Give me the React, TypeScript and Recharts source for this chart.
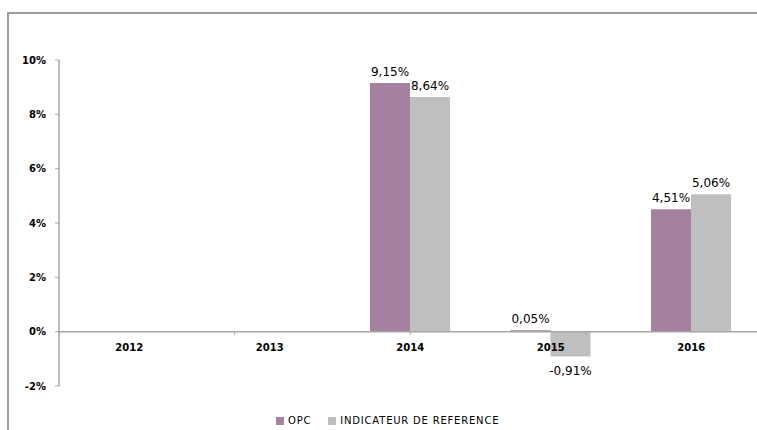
import React from 'react';
import { BarChart, Bar, XAxis, YAxis, ReferenceLine, ReferenceDot, LabelList } from 'recharts';

// Annual performance (%) of the fund vs. its benchmark
const years = ['2012', '2013', '2014', '2015', '2016'];
const opcValues: (number | null)[] = [null, null, 9.15, 0.05, 4.51];
const benchValues: (number | null)[] = [null, null, 8.64, -0.91, 5.06];
const yTicks = [-2, 0, 2, 4, 6, 8, 10];
const seriesNames = ['OPC', 'INDICATEUR DE REFERENCE'];
const seriesColors = ['#A6819F', '#BFBFBF'];
// boundaries between year bands, used for the small ticks on the zero line
const bandEdges = [0, 1, 2, 3, 4, 5];

const data = years.map((year, i) => ({ year, opc: opcValues[i], bench: benchValues[i] }));

const FONT = '"DejaVu Sans", Verdana, sans-serif';
const AXIS_GREY = '#A6A6A6';

const fmtPct = (v: number) => v.toFixed(2).replace('.', ',') + '%';

const ValueLabel = (props: any) => {
  const { x, y, width, height, value } = props;
  if (value === null || value === undefined) return null;
  const top = Math.min(y, y + height);
  const bottom = Math.max(y, y + height);
  const cx = x + width / 2;
  const ty = value >= 0 ? top - 7 : bottom + 19;
  return (
    <text x={cx} y={ty} textAnchor="middle" fontSize={12} fontFamily={FONT} fill="#000">
      {fmtPct(value)}
    </text>
  );
};

export default function App() {
  return (
    <div style={{ position: 'absolute', left: 0, top: 0, width: 757, height: 430, overflow: 'hidden', background: '#fff' }}>
      <div
        style={{
          position: 'absolute',
          left: 7,
          top: 12,
          width: 800,
          height: 500,
          borderTop: '2px solid #9C9C9C',
          borderLeft: '2px solid #9C9C9C',
        }}
      />
      <div style={{ position: 'absolute', left: 0, top: 0 }}>
        <BarChart
          width={775}
          height={430}
          data={data}
          margin={{ top: 60, right: 13.5, bottom: 44, left: 0 }}
          barGap={0}
          barSize={40}
        >
          <XAxis dataKey="year" hide />
          <XAxis xAxisId="edges" type="number" domain={[0, 5]} hide />
          <YAxis
            width={59}
            domain={[-2, 10]}
            ticks={yTicks}
            interval={0}
            tickFormatter={(v: number) => `${v}%`}
            axisLine={{ stroke: AXIS_GREY, strokeWidth: 1.5 }}
            tickLine={{ stroke: AXIS_GREY }}
            tickSize={4}
            tickMargin={9}
            tick={{ fontSize: 10, fontWeight: 'bold', fill: '#000', fontFamily: FONT }}
          />
          <ReferenceLine y={0} stroke={AXIS_GREY} strokeWidth={1.5} />
          {bandEdges.map((e) => (
            <ReferenceLine
              key={`edge-${e}`}
              xAxisId="edges"
              segment={[{ x: e, y: 0 }, { x: e, y: -0.12 }]}
              stroke={AXIS_GREY}
              ifOverflow="extendDomain"
            />
          ))}
          <Bar dataKey="opc" name={seriesNames[0]} fill={seriesColors[0]} isAnimationActive={false}>
            <LabelList dataKey="opc" content={ValueLabel} />
          </Bar>
          <Bar dataKey="bench" name={seriesNames[1]} fill={seriesColors[1]} isAnimationActive={false}>
            <LabelList dataKey="bench" content={ValueLabel} />
          </Bar>
          {years.map((year) => (
            <ReferenceDot
              key={year}
              x={year}
              y={0}
              r={0}
              fill="none"
              stroke="none"
              label={{
                value: year,
                position: 'bottom',
                offset: 12,
                style: { fontSize: 10, fontWeight: 'bold', fill: '#000', fontFamily: FONT },
              }}
            />
          ))}
        </BarChart>
      </div>
      <div
        style={{
          position: 'absolute',
          left: 276,
          top: 415,
          display: 'flex',
          alignItems: 'center',
          fontFamily: FONT,
          fontSize: 10,
          color: '#000',
          letterSpacing: 0.8,
        }}
      >
        {seriesNames.map((name, i) => (
          <div key={name} style={{ display: 'flex', alignItems: 'center', marginRight: 17 }}>
            <span style={{ width: 8, height: 8, background: seriesColors[i], marginRight: 4, display: 'inline-block' }} />
            <span>{name}</span>
          </div>
        ))}
      </div>
    </div>
  );
}
